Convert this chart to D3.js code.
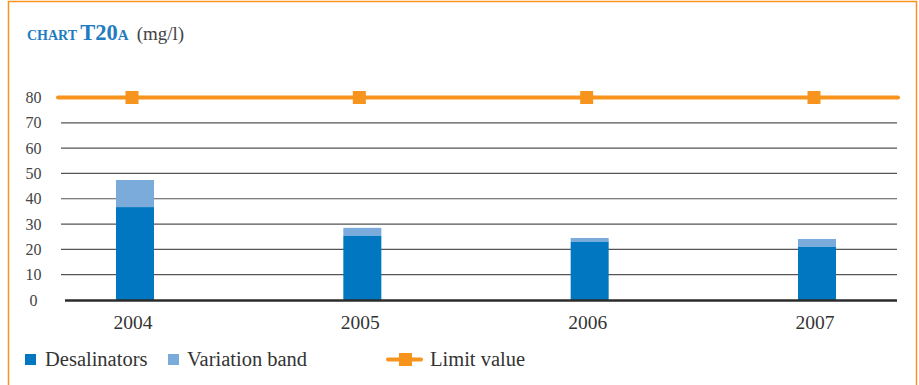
<!DOCTYPE html>
<html><head><meta charset="utf-8">
<script src="https://cdn.jsdelivr.net/npm/d3@7"></script>
<style>body{margin:0;background:#fff}svg{display:block}</style>
</head><body>
<svg id="c" width="919" height="385"></svg>
<script>
const years = ["2004","2005","2006","2007"];
const desalinators = [36.7, 25.4, 23.0, 21.0];
const bandTop = [47.4, 28.5, 24.5, 24.1];
const limitValue = [80, 80, 80, 80];
const yTicks = [0,10,20,30,40,50,60,70,80];
const legendLabels = ["Desalinators","Variation band","Limit value"];

const svg = d3.select("#c");
const serif = "'Liberation Serif', serif";
const blue = "#0077c0", light = "#7aabdb", orange = "#f7941d", titleBlue = "#1f7cc0";

svg.append("path").attr("d","M8.5,400 V1.5 H916.5 V400").attr("fill","none").attr("stroke",orange).attr("stroke-width",1.5);

const x = d3.scalePoint().domain(years).range([135, 817]);
const y = d3.scaleLinear().domain([0,80]).range([300, 97.5]);
const bw = 38;

// title
const t = svg.append("text").attr("x",27).attr("y",40).style("font-family",serif);
t.append("tspan").attr("fill",titleBlue).style("font-weight","bold").style("font-size","14px").style("font-family",serif).text("CHART ");
t.append("tspan").attr("fill",titleBlue).style("font-weight","bold").style("font-size","22.5px").style("font-family",serif).text("T20");
t.append("tspan").attr("fill",titleBlue).style("font-weight","bold").style("font-size","15px").style("font-family",serif).text("A");
t.append("tspan").attr("fill","#444").style("font-size","19px").style("font-family",serif).attr("dx",8).text("(mg/l)");

// gridlines
svg.append("g").selectAll("line").data(yTicks.filter(d=>d>0 && d<80)).join("line")
  .attr("x1",61).attr("x2",897).attr("y1",d=>y(d)).attr("y2",d=>y(d))
  .attr("stroke","#555").attr("stroke-width",1.2);

// y labels
svg.append("g").selectAll("text").data(yTicks).join("text")
  .attr("x",33.5).attr("y",d=>y(d)+5.5).attr("text-anchor","middle")
  .style("font-family",serif).style("font-size","16px").attr("fill","#444").text(d=>d);

// bars
svg.append("g").selectAll("rect").data(years).join("rect")
  .attr("x",d=>x(d)-bw/2).attr("width",bw)
  .attr("y",(d,i)=>y(bandTop[i])).attr("height",(d,i)=>y(desalinators[i])-y(bandTop[i]))
  .attr("fill",light);
svg.append("g").selectAll("rect").data(years).join("rect")
  .attr("x",d=>x(d)-bw/2).attr("width",bw)
  .attr("y",(d,i)=>y(desalinators[i])).attr("height",(d,i)=>y(0)-y(desalinators[i]))
  .attr("fill",blue);

// baseline
svg.append("line").attr("x1",65).attr("x2",897).attr("y1",y(0)+0.5).attr("y2",y(0)+0.5)
  .attr("stroke","#2b2b2b").attr("stroke-width",2.5);

// limit line
svg.append("line").attr("x1",58).attr("x2",898).attr("y1",y(80)).attr("y2",y(80))
  .attr("stroke",orange).attr("stroke-width",4).attr("stroke-linecap","round");
svg.append("g").selectAll("rect").data(years).join("rect")
  .attr("x",d=>x(d)-3-6.5).attr("y",(d,i)=>y(limitValue[i])-6.5).attr("width",13).attr("height",13)
  .attr("fill",orange);

// x labels
svg.append("g").selectAll("text").data(years).join("text")
  .attr("x",d=>x(d)-2).attr("y",329).attr("text-anchor","middle")
  .style("font-family",serif).style("font-size","19.5px").attr("fill","#333").text(d=>d);

// legend
const lg = svg.append("g").attr("fill","#333");
const lt = (xx, s) => lg.append("text").attr("x",xx).attr("y",365.5)
  .style("font-family",serif).style("font-size","20.5px").text(s);
lg.append("rect").attr("x",25).attr("y",354).attr("width",11).attr("height",11).attr("fill",blue);
lt(45, legendLabels[0]);
lg.append("rect").attr("x",168).attr("y",354).attr("width",11).attr("height",11).attr("fill",light);
lt(187, legendLabels[1]);
lg.append("line").attr("x1",388).attr("x2",421).attr("y1",359.5).attr("y2",359.5).attr("stroke",orange).attr("stroke-width",4).attr("stroke-linecap","round");
lg.append("rect").attr("x",399).attr("y",353).attr("width",13).attr("height",13).attr("fill",orange);
lt(430, legendLabels[2]);
</script>
</body></html>
